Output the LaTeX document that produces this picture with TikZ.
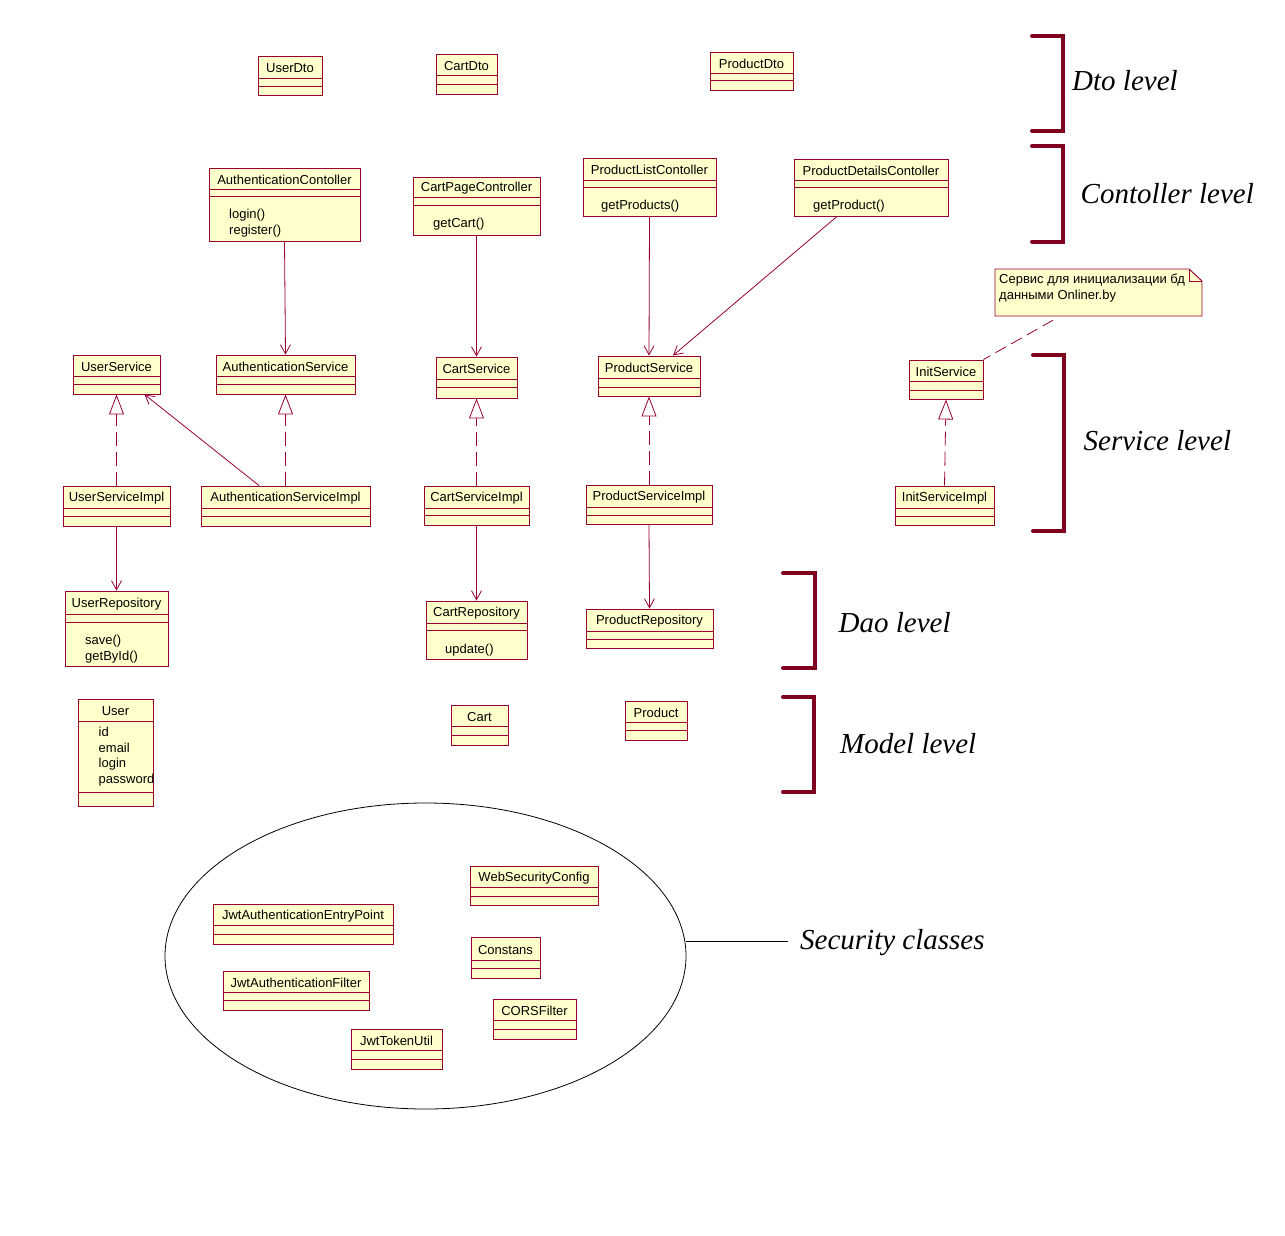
\documentclass[tikz,border=0pt]{standalone}
\usepackage{fontspec}
\setmainfont{Liberation Sans}
\newfontfamily\lvlfont{Liberation Serif}
\usetikzlibrary{arrows.meta,fit,shapes.geometric}
\definecolor{rose}{RGB}{153,0,51}
\definecolor{roseFill}{RGB}{255,255,204}
\definecolor{brk}{RGB}{128,0,32}
\tikzset{
 clsbox/.style={draw=rose, fill=roseFill, line width=0.95pt, inner sep=0pt},
 clsline/.style={draw=rose, line width=0.95pt},
 clsname/.style={font=\fontsize{13}{15}\selectfont, inner sep=0pt, yshift=-1.2pt},
 meth/.style={font=\fontsize{13}{15}\selectfont, inner sep=0pt, anchor=west, yshift=-1.2pt},
 dep/.style={draw=rose, line width=0.8pt, -{Straight Barb[length=9pt,width=10pt]}},
 real/.style={draw=rose, line width=0.8pt, dash pattern=on 14pt off 6pt, -{Triangle[length=20pt,width=15pt,fill=white]}},
 notelink/.style={draw=rose, line width=0.8pt, dash pattern=on 12pt off 6pt},
 brack/.style={draw=brk, line width=4pt, line cap=round, line join=miter},
 lvl/.style={font=\lvlfont\itshape\fontsize{29}{32}\selectfont, inner sep=0pt, anchor=base west},
}
\newcommand\umlcls[8]{%
  \node[clsbox, fit={(#2,#3) (#4,#5)}] (#1) {};
  \draw[clsline] (#2,#6) -- (#4,#6) (#2,#7) -- (#4,#7);
  \node[clsname] at ({(#2+#4)/2},{(#3+#6)/2}) {#8};
}
\begin{document}
\begin{tikzpicture}[x=1pt,y=-1pt]
\fill[white] (0,0) rectangle (1285,1236);
\useasboundingbox (0,0) rectangle (1285,1236);

% security ellipse
\node[draw, ellipse, line width=0.8pt, minimum width=521pt, minimum height=306pt, inner sep=0pt] (sec) at (425.5,956) {};
\coordinate (secend) at (788,941);
\draw[line width=0.8pt] (secend) -- (secend -| sec.east);
\node[lvl] (seclbl) at (800,949) {Security classes};

% Dto level
\umlcls{UserDto}{258}{56}{322}{95}{78}{86}{UserDto}
\umlcls{CartDto}{436}{54}{497}{94}{75}{84}{CartDto}
\umlcls{ProductDto}{710}{52}{793}{90}{73}{80}{ProductDto}

% Controller level
\umlcls{AC}{209}{168}{360}{241}{189}{196}{AuthenticationContoller}
\node[meth] at (229,214) {login()};
\node[meth] at (229,230) {register()};
\umlcls{CPC}{413}{177}{540}{235}{197}{205}{CartPageController}
\node[meth] at (433,223) {getCart()};
\umlcls{PLC}{583}{158}{716}{216}{180}{187}{ProductListContoller}
\node[meth] at (601,205) {getProducts()};
\umlcls{PDC}{794}{159}{948}{216}{180}{187}{ProductDetailsContoller}
\node[meth] at (813,205) {getProduct()};

% Note
\node[fit={(995,269) (1202,316)}, inner sep=0pt] (note) {};
\draw[draw=rose, fill=roseFill, line width=0.95pt] (995,269) -- (1189,269) -- (1202,281) -- (1202,316) -- (995,316) -- cycle;
\draw[draw=rose, line width=0.8pt] (1189,269) -- (1189,281) -- (1202,281);
\node[meth] at (999,279) {Сервис для инициализации бд};
\node[meth] at (999,295) {данными Onliner.by};

% Service level
\umlcls{US}{73}{355}{160}{394}{376}{384}{UserService}
\umlcls{AS}{216}{355}{355}{394}{376}{384}{AuthenticationService}
\umlcls{CS}{436}{357}{517}{398}{379}{387}{CartService}
\umlcls{PS}{598}{356}{700}{396}{378}{387}{ProductService}
\umlcls{IS}{909}{360}{983}{399}{381}{390}{InitService}
\umlcls{USI}{63}{486}{170}{526}{508}{516}{UserServiceImpl}
\umlcls{ASI}{201}{486}{370}{526}{508}{516}{AuthenticationServiceImpl}
\umlcls{CSI}{424}{486}{529}{525}{508}{515}{CartServiceImpl}
\umlcls{PSI}{586}{485}{712}{524}{507}{515}{ProductServiceImpl}
\umlcls{ISI}{895}{486}{994}{525}{508}{516}{InitServiceImpl}

% Dao level
\umlcls{UR}{65}{591}{168}{666}{614}{622}{UserRepository}
\node[meth] at (85,640) {save()};
\node[meth] at (85,656) {getById()};
\umlcls{CR}{426}{601}{527}{659}{623}{630}{CartRepository}
\node[meth] at (445,648.5) {update()};
\umlcls{PR}{586}{609}{713}{648}{631}{639}{ProductRepository}

% Model level
\umlcls{User}{78}{699}{153}{806}{721}{792}{User}
\node[meth] at (98.5,731) {id};
\node[meth] at (98.5,747) {email};
\node[meth] at (98.5,763) {login};
\node[meth] at (98.5,779) {password};
\umlcls{Cart}{451}{705}{508}{745}{726}{735}{Cart}
\umlcls{Product}{625}{701}{687}{740}{722}{730}{Product}

% Security classes
\umlcls{WSC}{470}{866}{598}{905}{887}{896}{WebSecurityConfig}
\umlcls{JAEP}{213}{904}{393}{944}{925}{934}{JwtAuthenticationEntryPoint}
\umlcls{Const}{471}{937}{540}{978}{960}{968}{Constans}
\umlcls{JAF}{223}{971}{369}{1010}{992}{1000}{JwtAuthenticationFilter}
\umlcls{CORS}{493}{999}{576}{1039}{1020}{1029}{CORSFilter}
\umlcls{JTU}{351}{1029}{442}{1069}{1050}{1059}{JwtTokenUtil}

% connectors
\draw[dep] (AC.south) -- (AS.north);
\draw[dep] (CPC.south) -- (CS.north);
\draw[dep] (PLC.south) -- (PS.north);
\draw[dep] ([xshift=-34pt]PDC.south) -- ([xshift=24pt]PS.north);
\draw[dep] ([xshift=-26.5pt]ASI.north) -- ([xshift=28pt]US.south);
\draw[real] (USI.north) -- (US.south);
\draw[real] (ASI.north) -- (AS.south);
\draw[real] (CSI.north) -- (CS.south);
\draw[real] (PSI.north) -- (PS.south);
\draw[real] (ISI.north) -- (IS.south);
\draw[dep] (USI.south) -- (UR.north);
\draw[dep] (CSI.south) -- (CR.north);
\draw[dep] (PSI.south) -- (PR.north);
\draw[notelink] ([xshift=-45.5pt,yshift=-4pt]note.south) -- (IS.north east);

% level brackets
\draw[brack] (1032,36) -- (1063,36) -- (1063,131) -- (1032,131);
\node[lvl] (lDto) at (1072,90.5) {Dto level};
\draw[brack] (1032,146) -- (1063,146) -- (1063,241.5) -- (1032,241.5);
\node[lvl] (lCtl) at (1080.5,203.5) {Contoller level};
\draw[brack] (1033,355) -- (1064,355) -- (1064,531) -- (1033,531);
\node[lvl] (lSrv) at (1083.5,450) {Service level};
\draw[brack] (783,573) -- (814.5,573) -- (814.5,668) -- (783,668);
\node[lvl] (lDao) at (838.5,632.5) {Dao level};
\draw[brack] (783,697) -- (814,697) -- (814,792) -- (783,792);
\node[lvl] (lMod) at (840,753.5) {Model level};
\end{tikzpicture}
\end{document}
